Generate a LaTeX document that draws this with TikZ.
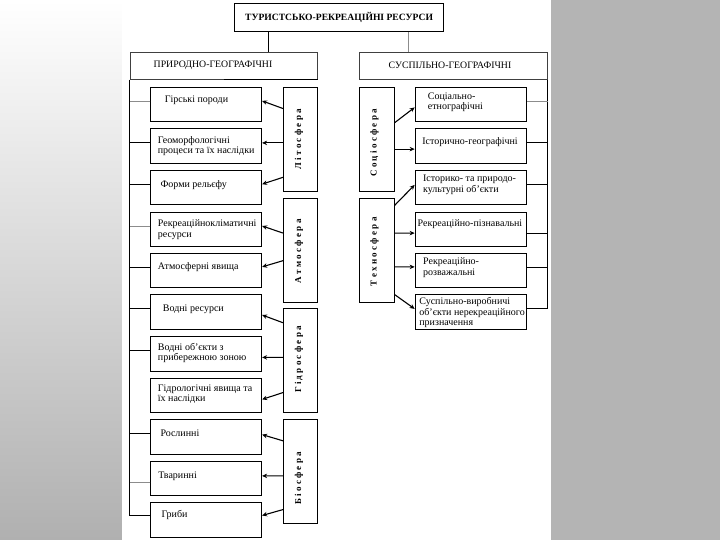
\documentclass[tikz,border=0pt]{standalone}
\usepackage{fontspec}
\setmainfont{Liberation Serif}
\usetikzlibrary{arrows.meta,calc}
\definecolor{bgl}{RGB}{176,176,176}
\definecolor{bgr}{RGB}{180,180,180}
\newcommand\lsp{\kern2.3pt}
\begin{document}
\begin{tikzpicture}[x=1pt,y=-1pt,
  tbox/.style={draw=black, line width=0.9pt, inner sep=0pt},
  hbox/.style={draw=black!75, line width=0.7pt, inner sep=0pt},
  htxt/.style={font=\fontsize{9.8}{11}\selectfont, inner sep=0pt},
  box/.style={draw=black, line width=0.8pt, inner sep=0pt, minimum width=111pt, minimum height=34.5pt},
  rbox/.style={draw=black, line width=0.8pt, inner sep=0pt, minimum width=111.7pt, minimum height=34.5pt},
  sph/.style={draw=black, line width=0.8pt, inner sep=0pt, minimum width=34.4pt, minimum height=104pt},
  txt/.style={font=\fontsize{10}{10.4}\selectfont, align=left, inner sep=0pt, anchor=west},
  spht/.style={font=\fontsize{9}{10}\selectfont\bfseries, rotate=90, inner sep=0pt},
  arr/.style={line width=1.1pt, -{Stealth[length=5pt,width=4.5pt]}},
  br/.style={line width=0.8pt, draw=black},
  lbr/.style={line width=0.6pt, draw=black!45}]
\useasboundingbox (0,0) rectangle (720,540);
\shade[top color=white, bottom color=bgl] (0,0) rectangle (122,540);
\fill[white] (122,0) rectangle (551,540);
\fill[bgr] (551,0) rectangle (720,540);

% title and headers
\node[tbox, minimum width=209pt, minimum height=28.3pt] (title) at (339.1,17.5)
  {\bfseries\fontsize{9.6}{11}\selectfont ТУРИСТСЬКО-РЕКРЕАЦІЙНІ РЕСУРСИ};
\node[hbox, minimum width=187.7pt, minimum height=26.9pt] (hl) at (223.85,65.75) {};
\node[htxt] (hlt) at (213,65.5) {ПРИРОДНО-ГЕОГРАФІЧНІ};
\node[hbox, minimum width=188.3pt, minimum height=26.9pt] (hr) at (453.15,65.75) {};
\node[htxt] (hrt) at (450,65.5) {СУСПІЛЬНО-ГЕОГРАФІЧНІ};
\draw[br] ([xshift=34pt]title.south west) -- ([xshift=34pt]title.south west |- hl.north);
\draw[lbr] ([xshift=-36pt]title.south east) -- ([xshift=-36pt]title.south east |- hr.north);
\draw[br] (hl.south) -- (hl.south east);

% left boxes
\node[box] (l1) at (206.2,104.5) {};
\node[box] (l2) at (206.2,145.8) {};
\node[box] (l3) at (206.2,187.5) {};
\node[box] (l4) at (206.2,229.5) {};
\node[box] (l5) at (206.2,270.6) {};
\node[box] (l6) at (206.2,312.1) {};
\node[box] (l7) at (206.2,353.8) {};
\node[box] (l8) at (206.2,395.3) {};
\node[box] (l9) at (206.2,437.0) {};
\node[box] (l10) at (206.2,478.3) {};
\node[box] (l11) at (206.2,520.0) {};
\node[txt] (l1t) at ($(l1.west)+(14.4,-4.6)$) {Гірські породи};
\node[txt] (l2t) at ($(l2.west)+(7.3,0)$) {Геоморфологічні\\процеси та їх наслідки};
\node[txt] (l3t) at ($(l3.west)+(10,-2.6)$) {Форми рельєфу};
\node[txt] (l4t) at ($(l4.west)+(7.4,0)$) {Рекреаційнокліматичні\\ресурси};
\node[txt] (l5t) at ($(l5.west)+(7.4,-3.7)$) {Атмосферні явища};
\node[txt] (l6t) at ($(l6.west)+(12.4,-3.2)$) {Водні ресурси};
\node[txt] (l7t) at ($(l7.west)+(7.4,-0.8)$) {Водні об’єкти з\\прибережною зоною};
\node[txt] (l8t) at ($(l8.west)+(7.4,-1)$) {Гідрологічні явища та\\їх наслідки};
\node[txt] (l9t) at ($(l9.west)+(10,-4.1)$) {Рослинні};
\node[txt] (l10t) at ($(l10.west)+(7.8,-2.1)$) {Тваринні};
\node[txt] (l11t) at ($(l11.west)+(11,-5.2)$) {Гриби};

% left spheres
\node[sph] (lit) at (300.5,139.3) {};
\node[sph] (atm) at (300.5,250.2) {};
\node[sph] (hyd) at (300.5,360.5) {};
\node[sph] (bio) at (300.5,471.4) {};
\node[spht] (litt) at ($(lit)+(-1.5,0)$) {Л\lsp і\lsp т\lsp о\lsp с\lsp ф\lsp е\lsp р\lsp а};
\node[spht] (atmt) at ($(atm)+(-1.5,1)$) {А\lsp т\lsp м\lsp о\lsp с\lsp ф\lsp е\lsp р\lsp а};
\node[spht] (hydt) at ($(hyd)+(-1.5,-1)$) {Г\lsp і\lsp д\lsp р\lsp о\lsp с\lsp ф\lsp е\lsp р\lsp а};
\node[spht] (biot) at ($(bio)+(-1.5,7)$) {Б\lsp і\lsp о\lsp с\lsp ф\lsp е\lsp р\lsp а};

% left spine and branches
\draw[br] (hl.south west) |- ([yshift=4.5pt]l11.west);
\draw[lbr] ([yshift=3.6pt]l1.west) -- ([yshift=3.6pt]l1.west -| hl.west);
\draw[br] ([yshift=3.6pt]l2.west) -- ([yshift=3.6pt]l2.west -| hl.west);
\draw[br] ([yshift=3.3pt]l3.west) -- ([yshift=3.3pt]l3.west -| hl.west);
\draw[lbr] ([yshift=3.3pt]l4.west) -- ([yshift=3.3pt]l4.west -| hl.west);
\draw[br] ([yshift=3.7pt]l5.west) -- ([yshift=3.7pt]l5.west -| hl.west);
\draw[br] ([yshift=3.9pt]l6.west) -- ([yshift=3.9pt]l6.west -| hl.west);
\draw[br] ([yshift=3.6pt]l7.west) -- ([yshift=3.6pt]l7.west -| hl.west);
\draw[br] ([yshift=4.1pt]l9.west) -- ([yshift=4.1pt]l9.west -| hl.west);
\draw[lbr] ([yshift=-3.8pt]l10.west) -- ([yshift=-3.8pt]l10.west -| hl.west);

% left arrows
\draw[arr] ($(lit.west)+(0,-30.8)$) -- ($(l1.east)+(0,-3.6)$);
\draw[arr] ($(lit.west)+(0,3.6)$) -- ($(l2.east)+(0,-2.9)$);
\draw[arr] ($(lit.west)+(0,38)$) -- ($(l3.east)+(0,-3.3)$);
\draw[arr] ($(atm.west)+(0,-17.2)$) -- ($(l4.east)+(0,-3.5)$);
\draw[arr] ($(atm.west)+(0,10.5)$) -- ($(l5.east)+(0,-3.7)$);
\draw[arr] ($(hyd.west)+(0,-37.8)$) -- ($(l6.east)+(0,2.9)$);
\draw[arr] ($(hyd.west)+(0,-3.1)$) -- ($(l7.east)+(0,3.6)$);
\draw[arr] ($(hyd.west)+(0,32.1)$) -- ($(l8.east)+(0,4.1)$);
\draw[arr] ($(bio.west)+(0,-30.6)$) -- ($(l9.east)+(0,-2.4)$);
\draw[arr] ($(bio.west)+(0,4.5)$) -- ($(l10.east)+(0,-2.4)$);
\draw[arr] ($(bio.west)+(0,38.2)$) -- ($(l11.east)+(0,-4.5)$);

% right spheres
\node[sph, minimum width=35pt] (soc) at (376.5,139.3) {};
\node[sph, minimum width=35pt] (tec) at (376.5,250.2) {};
\node[spht] (soct) at ($(soc)+(-2,3.5)$) {С\lsp о\lsp ц\lsp і\lsp о\lsp с\lsp ф\lsp е\lsp р\lsp а};
\node[spht] (tect) at ($(tec)+(-2,1.5)$) {Т\lsp е\lsp х\lsp н\lsp о\lsp с\lsp ф\lsp е\lsp р\lsp а};

% right boxes
\node[rbox] (r1) at (470.9,104.5) {};
\node[rbox] (r2) at (470.9,145.8) {};
\node[rbox] (r3) at (470.9,187.5) {};
\node[rbox] (r4) at (470.9,229.5) {};
\node[rbox] (r5) at (470.9,270.6) {};
\node[rbox] (r6) at (470.9,312.1) {};
\node[txt] (r1t) at ($(r1.west)+(13,-2.2)$) {Соціально-\\етнографічні};
\node[txt] (r2t) at ($(r2.west)+(7.4,-3.6)$) {Історично-географічні};
\node[txt] (r3t) at ($(r3.west)+(8.3,-2.5)$) {Історико- та природо-\\культурні об’єкти};
\node[txt] (r4t) at ($(r4.west)+(2.8,-5.3)$) {Рекреаційно-пізнавальні};
\node[txt] (r5t) at ($(r5.west)+(8.3,-2.8)$) {Рекреаційно-\\розважальні};
\node[txt] (r6t) at ($(r6.west)+(4.5,0.5)$) {Суспільно-виробничі\\об’єкти нерекреаційного\\призначення};

% right spine and branches
\draw[br] (hr.south east) |- ([yshift=3.9pt]r6.east);
\draw[lbr] ([yshift=3.6pt]r1.east) -- ([yshift=3.6pt]r1.east -| hr.east);
\draw[br] ([yshift=3.6pt]r2.east) -- ([yshift=3.6pt]r2.east -| hr.east);
\draw[br] ([yshift=3.3pt]r3.east) -- ([yshift=3.3pt]r3.east -| hr.east);
\draw[br] ([yshift=-3.6pt]r4.east) -- ([yshift=-3.6pt]r4.east -| hr.east);
\draw[br] ([yshift=3.7pt]r5.east) -- ([yshift=3.7pt]r5.east -| hr.east);

% right arrows
\draw[arr] ($(soc.east)+(0,-16.4)$) -- ($(r1.west)+(0,2.9)$);
\draw[arr] ($(soc.east)+(0,9.8)$) -- ($(r2.west)+(0,3.3)$);
\draw[arr] ($(tec.east)+(0,-44.6)$) -- ($(r3.west)+(0,-2.6)$);
\draw[arr] ($(tec.east)+(0,-17.1)$) -- ($(r4.west)+(0,3.6)$);
\draw[arr] ($(tec.east)+(0,16.7)$) -- ($(r5.west)+(0,-3.7)$);
\draw[arr] ($(tec.east)+(0,44.2)$) -- ($(r6.west)+(0,-3.2)$);
\end{tikzpicture}
\end{document}
